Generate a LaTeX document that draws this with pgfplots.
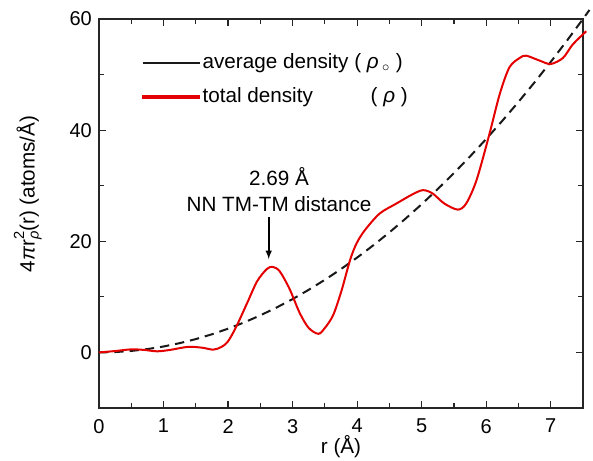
\documentclass[border=0pt]{standalone}
\usepackage{fontspec}
\setmainfont{Liberation Sans}
\usepackage{pgfplots}
\pgfplotsset{compat=1.18}
\begin{document}
\fontsize{15.5}{18}\selectfont
\begin{tikzpicture}[font=\fontsize{15.5}{18}\selectfont]
\begin{axis}[
  scale only axis,
  width=363pt, height=291.75pt,
  xmin=0, xmax=7.5, ymin=-10, ymax=60,
  xtick={0,1,...,7}, ytick={0,20,40,60},
  minor xtick={0.5,1.5,...,7.5}, minor ytick={-10,10,30,50},
  tick align=inside,
  major tick length=5pt, minor tick length=3.5pt,
  axis line style={line width=0.9pt, black!85},
  every tick/.style={line width=0.9pt, black!85},
  /pgf/number format/assume math mode=true,
  tick label style={font=\fontsize{15}{18}\selectfont},
  xticklabel style={yshift=-3pt},
  clip=false,
  xlabel={r (Å)},
  ylabel={4\textit{π}r{\rlap{\raisebox{0.5em}{\fontsize{11}{12}\selectfont 2}}\raisebox{-0.2em}{\fontsize{11}{12}\selectfont \textit{ρ}}}(r) (atoms/Å)},
  every axis x label/.style={at={(rel axis cs:0.5,-0.1)}, anchor=center},
  every axis y label/.style={at={(rel axis cs:-0.147,0.55)}, rotate=90, anchor=center},
  legend style={draw=none, fill=none, at={(rel axis cs:0.08,0.925)}, anchor=north west,
    font=\fontsize{15.5}{18}\selectfont, row sep=8pt},
  legend cell align=left,
  legend image code/.code={\fill (0pt,-0.65pt) rectangle (42pt,0.65pt);},
]
\addplot[black!90, line width=1.5pt, dash pattern=on 7pt off 4.5pt, forget plot] coordinates {
(0,0) (0.25,0.067) (0.5,0.267) (0.75,0.600) (1,1.067) (1.25,1.667) (1.5,2.400) (1.75,3.267) (2,4.27)
(2.25,5.40) (2.5,6.67) (2.75,8.07) (3,9.60) (3.25,11.27) (3.5,13.07) (3.75,15.00) (4,17.07)
(4.25,19.27) (4.5,21.60) (4.75,24.07) (5,26.67) (5.25,29.41) (5.5,32.27) (5.75,35.27) (6,38.41)
(6.25,41.68) (6.5,45.08) (6.75,48.61) (7,52.28) (7.25,56.08) (7.5,60.01) (7.6,61.62)
};
\addlegendimage{black!90, fill=black!90}
\addlegendentry{average density ( \textit{ρ}\,$_{\circ}$ )}
\addplot[red!90!black, line width=1.5pt, smooth, tension=0.5, fill=none] coordinates {
(0,0) (0.25,0.25) (0.5,0.55) (0.7,0.45) (0.9,0.2) (1.1,0.45) (1.38,1.0) (1.6,0.85) (1.77,0.5)
(1.9,1.0) (2.0,2.0) (2.13,4.7) (2.3,9.0) (2.45,12.8) (2.6,15.0) (2.69,15.4) (2.8,14.6)
(2.95,11.5) (3.11,7.1) (3.25,4.4) (3.40,3.35) (3.5,4.4) (3.63,6.75) (3.76,11.2) (3.89,16.6)
(3.99,19.6) (4.12,22.0) (4.35,25.0) (4.61,26.8) (4.85,28.4) (5.02,29.2) (5.17,28.6) (5.35,26.8)
(5.56,25.7) (5.69,26.8) (5.85,31.0) (6.05,39.3) (6.21,46.5) (6.36,51.3) (6.52,53.0) (6.62,53.4)
(6.83,52.5) (7.0,51.9) (7.19,53.0) (7.34,55.4) (7.55,57.8)
};
\addlegendimage{red!90!black, fill=red!90!black}
\addlegendentry{\makebox[126pt][l]{total density}( \textit{ρ} )}
\draw[-latex, line width=1.2pt] (axis cs:2.63,24.3) -- (axis cs:2.63,16.8);
\node[align=center, inner sep=0pt] at (axis cs:2.79,29.3) {2.69 Å\\[2pt]NN TM-TM distance};
\end{axis}
\pgfresetboundingbox
\path[use as bounding box] ([shift={(-74.25pt,-39.75pt)}]current axis.south west) rectangle ([shift={(7.5pt,14.25pt)}]current axis.north east);
\end{tikzpicture}
\end{document}
